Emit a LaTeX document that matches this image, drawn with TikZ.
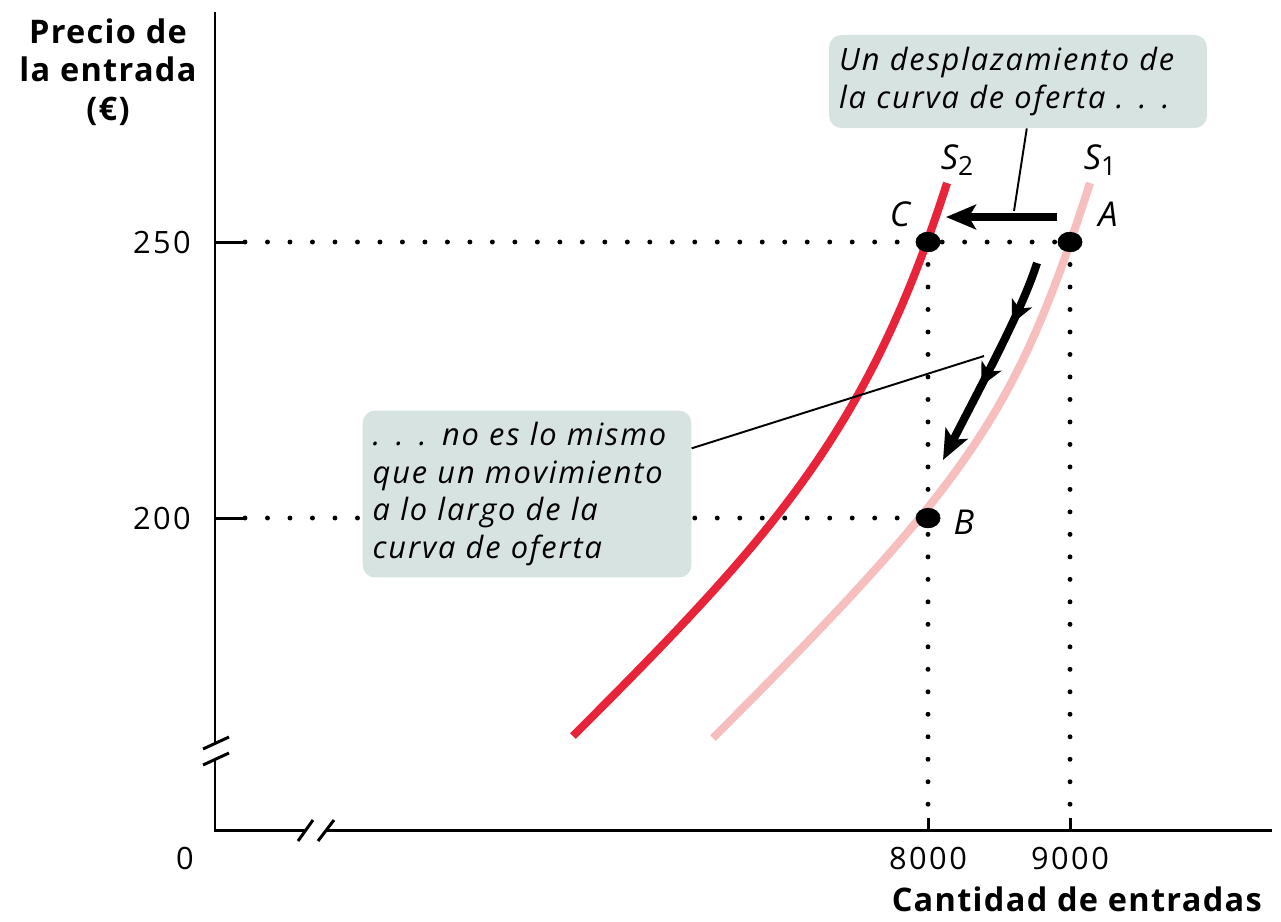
\documentclass[tikz,border=0pt]{standalone}
\usepackage{fontspec}
\setmainfont{Open Sans}
\newfontfamily\calloutfont[LetterSpace=6]{Open Sans}
\newfontfamily\numfont[LetterSpace=8]{Open Sans}
\newfontfamily\titlefont[LetterSpace=4]{Open Sans}
\usepackage{xcolor}
\usetikzlibrary{arrows.meta,shapes.geometric,decorations.markings}
\definecolor{boxfill}{RGB}{214,227,224}
\definecolor{sred}{RGB}{232,36,58}
\definecolor{spink}{RGB}{247,190,190}
\tikzstyle{axis} = [line width = 1.7pt]
\tikzstyle{guide} = [line width = 2.8pt, dash pattern = on 0pt off 12.8pt, line cap = round]
\tikzstyle{dot} = [ellipse, fill = black, inner sep = 0pt, minimum width = 14pt, minimum height = 11.5pt]
\tikzstyle{callout} = [fill = boxfill, rounded corners = 7pt, inner xsep = 5.7pt, align = left, font = \calloutfont\fontsize{17.5}{21.5}\selectfont\itshape]
\tikzstyle{leader} = [line width = 1.1pt]
\tikzstyle{curve} = [line width = 4.6pt]
\tikzstyle{num} = [font = \numfont\fontsize{17.5}{20}\selectfont]
\tikzstyle{ptlabel} = [font = \fontsize{19.5}{22}\selectfont\itshape]
\tikzstyle{title} = [font = \titlefont\fontsize{18.5}{22}\selectfont\bfseries]

\begin{document}
\begin{tikzpicture}[x = 0.02cm, y = -0.02cm]
        \useasboundingbox (0, 0) rectangle (1281, 921);
        % axes
        \coordinate (ytop) at (215, 12);
        \coordinate (origin) at (215, 830);
        \coordinate (xend) at (1272, 830);
        \draw [axis] (ytop) -- (215, 743);
        \draw [axis] (215, 760) -- (origin) -- (306, 830);
        \draw [axis] (325, 830) -- (xend);
        \draw [axis] (203, 749) -- (229, 737);
        \draw [axis] (203, 765) -- (229, 753);
        \draw [axis] (298, 841) -- (313, 820);
        \draw [axis] (318, 841) -- (334, 820);
        % points
        \node (C) at (928, 242) [dot] {};
        \node (A) at (1070, 242) [dot] {};
        \node (B) at (928, 518) [dot] {};
        % ticks and guides
        \coordinate (t250) at (245, 242);
        \coordinate (t200) at (245, 518);
        \coordinate (t8000) at (928, 818);
        \coordinate (t9000) at (1070, 818);
        \draw [axis] (215, 242) -- (t250);
        \draw [axis] (215, 518) -- (t200);
        \draw [axis] (t8000) -- (928, 830);
        \draw [axis] (t9000) -- (1070, 830);
        \draw [guide] (t250) -- (A.center);
        \draw [guide] (t200) -- (B.center);
        \draw [guide] (C.center) -- (t8000);
        \draw [guide] (A.center) -- (t9000);
        % supply curves
        \draw [curve, spink] (713, 738) .. controls (973, 478) and (1016, 413) .. (1090, 183);
        \draw [curve, sred] (573, 736) .. controls (773, 536) and (867, 433) .. (947, 183);
        \node (C) at (928, 242) [dot] {};
        \node (A) at (1070, 242) [dot] {};
        \node (B) at (928, 518) [dot] {};
        % callouts
        \node (shiftbox) at (1018, 81.5) [callout, minimum width = 215pt, minimum height = 53pt, text width = 203.6pt] {Un desplazamiento de\\la curva de oferta . . .};
        \node (movebox) at (527, 494) [callout, minimum width = 187pt, minimum height = 95pt, text width = 175.6pt] {. . . no es lo mismo\\que un movimiento\\a lo largo de la\\curva de oferta};
        % arrows
        \coordinate (shiftstart) at (1057, 217);
        \coordinate (shiftend) at (946, 217);
        \coordinate (shiftmid) at (1014, 211);
        \coordinate (movestart) at (1037, 263);
        \coordinate (moveend) at (943, 460);
        \coordinate (movemid) at (984, 356);
        \draw [leader] ([xshift = 5pt] shiftbox.south) -- (shiftmid);
        \draw [leader] ([yshift = 26pt] movebox.east) -- (movemid);
        \draw [line width = 4.6pt, -{Stealth[length = 17pt, width = 14pt, inset = 4pt]}] (shiftstart) -- (shiftend);
        \draw [line width = 4.6pt, -{Stealth[length = 17pt, width = 14pt, inset = 4pt]},
            postaction = {decorate, decoration = {markings,
                mark = at position 0.3 with {\arrow{Stealth[length = 13pt, width = 12.5pt, inset = 3.5pt]}},
                mark = at position 0.62 with {\arrow{Stealth[length = 13pt, width = 12.5pt, inset = 3.5pt]}}}}]
            (movestart) .. controls (1022, 310) and (985, 378) .. (moveend);
        % labels
        \node (labC) at (900, 214) [ptlabel] {C};
        \node (labA) at (1108, 214) [ptlabel] {A};
        \node (labB) at (964, 522) [ptlabel] {B};
        \node (labS2) at (957, 160) [ptlabel] {S\raisebox{-0.35ex}{\upshape\fontsize{15}{15}\selectfont 2}};
        \node (labS1) at (1100, 160) [ptlabel] {S\raisebox{-0.35ex}{\upshape\fontsize{15}{15}\selectfont 1}};
        \node (n250) at (197, 242) [num, anchor = east] {250};
        \node (n200) at (197, 518) [num, anchor = east] {200};
        \node (n0) at (185, 858) [num] {0};
        \node (n8000) at (928, 858) [num] {8000};
        \node (n9000) at (1070, 858) [num] {9000};
        \node (ytitle) at (108, 72) [title, align = center] {Precio de\\la entrada\\(€)};
        \node (xtitle) at (1268, 899) [title, anchor = east] {Cantidad de entradas};
    \end{tikzpicture}
\end{document}
